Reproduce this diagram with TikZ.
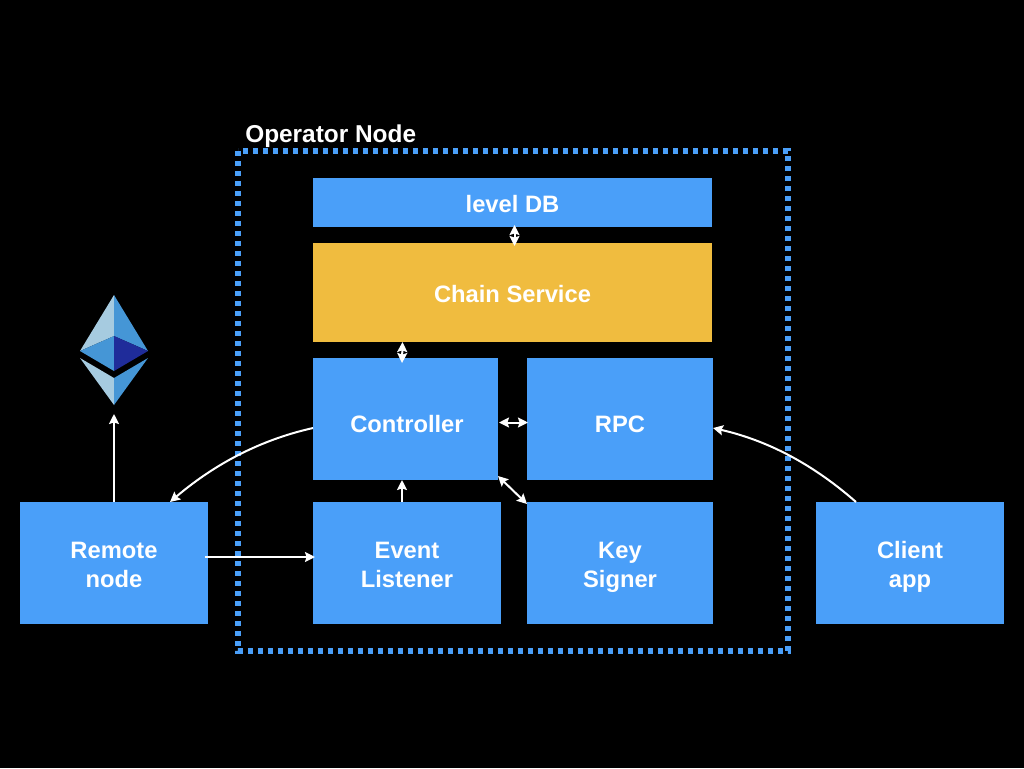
\documentclass[tikz,border=0pt]{standalone}
\usepackage{fontspec}
\setmainfont{Liberation Sans}
\usetikzlibrary{arrows.meta,calc}
\definecolor{boxblue}{HTML}{4A9FF9}
\definecolor{boxyellow}{HTML}{F0BC3F}
\definecolor{ethlight}{HTML}{A6CBE0}
\definecolor{ethmid}{HTML}{4596D6}
\definecolor{ethdark}{HTML}{1F2C9A}
\tikzset{
  px/.style={x=0.75pt,y=-0.75pt},
  blockbox/.style={fill=boxblue,text=white,font=\fontsize{17.8}{21.75}\selectfont\bfseries,align=center,inner sep=0pt,outer sep=0pt},
  headtip/.tip={Stealth[length=7.5pt,width=7.5pt,inset=1.2pt]},
  link/.style={draw=white,line width=1.5pt,-headtip},
  bilink/.style={draw=white,line width=1.5pt,headtip-headtip},
}
\newcommand{\txtop}[1]{\rule{0pt}{#1pt}}
\newcommand{\txbot}{\rule[-5pt]{0pt}{5pt}}
\newcommand{\blockat}[7]{\node[blockbox,#7,minimum width=#4*0.75pt-#2*0.75pt,minimum height=#5*0.75pt-#3*0.75pt] (#1) at ({(#2+#4)/2},{(#3+#5)/2}) {#6};}
\begin{document}
\begin{tikzpicture}[px]
\useasboundingbox[fill=black] (0,0) rectangle (1024,768);
\draw[boxblue,line width=3.8pt,dash pattern=on 3.6pt off 3.9pt] (238,151) rectangle (788,651);
\node[text=white,font=\fontsize{18.3}{22}\selectfont\bfseries,anchor=base west,inner sep=0pt] (title) at (245,142) {Operator Node};
\blockat{db}{313}{178}{712}{227}{\txtop{20}level DB\txbot}{}
\blockat{chain}{313}{243}{712}{342}{\txtop{19.3}Chain Service\txbot}{fill=boxyellow}
\blockat{ctrl}{313}{358}{498}{480}{\txtop{25.3}\hspace*{2.2pt}Controller\txbot}{}
\blockat{rpc}{527}{358}{713}{480}{\txtop{25.3}RPC\txbot}{}
\blockat{event}{313}{502}{501}{624}{\txtop{20}Event\\Listener\txbot}{}
\blockat{key}{527}{502}{713}{624}{\txtop{20}Key\\Signer\txbot}{}
\blockat{remote}{20}{502}{208}{624}{\txtop{20}Remote\\node\txbot}{}
\blockat{client}{816}{502}{1004}{624}{\txtop{20}Client\\app\txbot}{}
% Ethereum logo
\fill[ethlight] (114,295) -- (80,351) -- (114,336) -- cycle;
\fill[ethmid] (114,295) -- (148,351) -- (114,336) -- cycle;
\fill[ethmid] (80,351) -- (114,336) -- (114,371) -- cycle;
\fill[ethdark] (148,351) -- (114,336) -- (114,371) -- cycle;
\fill[ethlight] (80,358) -- (114,378) -- (114,405) -- cycle;
\fill[ethmid] (148,358) -- (114,378) -- (114,405) -- cycle;
\coordinate (eth) at (114,414);
% connectors
\draw[bilink] ($(db.south)+(2,-2)$) -- ($(chain.north)+(2,3)$);
\draw[bilink] ($(chain.south)+(-110,0)$) -- ($(ctrl.north)+(-3.5,5)$);
\draw[bilink] ($(ctrl.east)+(1,3.5)$) -- ($(rpc.west)+(1,3.5)$);
\draw[bilink] ($(ctrl.south east)+(0,-4)$) -- ($(key.north west)+(0,2)$);
\draw[link] ($(event.north)+(-5,0)$) -- ($(ctrl.south)+(-3.5,0)$);
\draw[link] (remote.north) -- (eth);
\draw[link] ($(remote.east)+(-3,-6)$) -- ($(event.west)+(2,-6)$);
\draw[link] ($(ctrl.west)+(0,9)$) .. controls (255,441) and (210,468) .. ($(remote.north)+(56,0)$);
\draw[link] ($(client.north)+(-54,0)$) .. controls (815,466) and (770,441) .. ($(rpc.east)+(0,9)$);
\end{tikzpicture}
\end{document}
